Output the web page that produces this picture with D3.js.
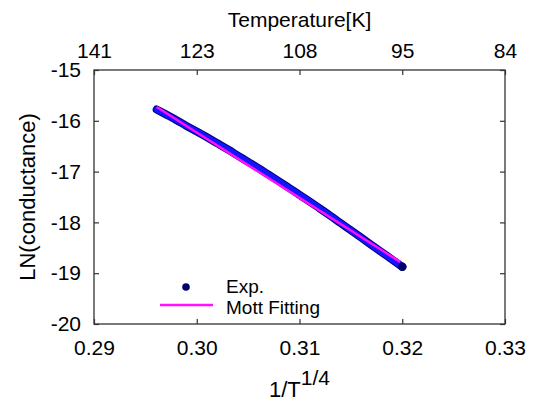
<!DOCTYPE html>
<html>
<head>
<meta charset="utf-8">
<script src="https://cdn.jsdelivr.net/npm/d3@7"></script>
<style>
  body { margin: 0; background: #fff; }
  svg text { font-family: Arial, "Liberation Sans", sans-serif; fill: #000; }
</style>
</head>
<body>
<div id="chart"></div>
<script>
// x = 1/T^(1/4), y = ln(conductance)
const expX = [0.2961, 0.2970, 0.2980, 0.2990, 0.3000, 0.3010, 0.3020, 0.3030, 0.3040,
  0.3050, 0.3060, 0.3070, 0.3080, 0.3090, 0.3100, 0.3110, 0.3120, 0.3130, 0.3140,
  0.3150, 0.3160, 0.3170, 0.3180, 0.3190, 0.3200];
const expY = [-15.778, -15.874, -15.983, -16.101, -16.210, -16.324, -16.442, -16.561, -16.685,
  -16.808, -16.932, -17.061, -17.190, -17.323, -17.457, -17.591, -17.729, -17.868, -18.012,
  -18.155, -18.299, -18.443, -18.587, -18.730, -18.874];

// Mott fit line
const fitX = [0.2961, 0.3000, 0.3050, 0.3100, 0.3150, 0.3198];
const fitY = [-15.728, -16.230, -16.873, -17.517, -18.160, -18.778];

const xTicks = [0.29, 0.30, 0.31, 0.32, 0.33];
const yTicks = [-15, -16, -17, -18, -19, -20];
const tempLabels = ["141", "123", "108", "95", "84"];

const W = 536, H = 402;
const margin = { left: 94, right: 31, top: 70, bottom: 78 };

const svg = d3.select('#chart').append('svg')
  .attr('width', W)
  .attr('height', H);

const x = d3.scaleLinear().domain([0.29, 0.33]).range([margin.left, W - margin.right]);
const y = d3.scaleLinear().domain([-20, -15]).range([H - margin.bottom, margin.top]);

// bottom axis, ticks pointing inside
svg.append('g')
  .attr('transform', `translate(0,${H - margin.bottom})`)
  .call(d3.axisBottom(x).tickValues(xTicks).tickSize(-5).tickPadding(16).tickFormat(d => d.toFixed(2)))
  .call(g => g.select('.domain').remove());

// top axis with temperature labels
svg.append('g')
  .attr('transform', `translate(0,${margin.top})`)
  .call(d3.axisTop(x).tickValues(xTicks).tickSize(-5).tickPadding(12)
    .tickFormat((d, i) => tempLabels[i]))
  .call(g => g.select('.domain').remove());

// left axis (plain hyphen minus like the original)
svg.append('g')
  .attr('transform', `translate(${margin.left},0)`)
  .call(d3.axisLeft(y).tickValues(yTicks).tickSize(-5).tickPadding(13).tickFormat(d => String(d)))
  .call(g => g.select('.domain').remove());

// right side ticks only
svg.append('g')
  .attr('transform', `translate(${W - margin.right},0)`)
  .call(d3.axisRight(y).tickValues(yTicks).tickSize(-5).tickFormat(''))
  .call(g => g.select('.domain').remove());

svg.selectAll('.tick line').attr('stroke', '#333').attr('stroke-width', 1.2);
svg.selectAll('.tick text').style('font-size', '21px').attr('fill', '#000');

// frame
svg.append('rect')
  .attr('x', margin.left)
  .attr('y', margin.top)
  .attr('width', W - margin.left - margin.right)
  .attr('height', H - margin.top - margin.bottom)
  .attr('fill', 'none')
  .attr('stroke', '#333')
  .attr('stroke-width', 1.3);

// experimental data
const expData = expX.map((v, i) => [v, expY[i]]);
const fitData = fitX.map((v, i) => [v, fitY[i]]);
const line = d3.line().x(d => x(d[0])).y(d => y(d[1])).curve(d3.curveMonotoneX);

svg.append('path')
  .datum(expData)
  .attr('d', line)
  .attr('fill', 'none')
  .attr('stroke', '#00007a')
  .attr('stroke-width', 8)
  .attr('stroke-linecap', 'round');

svg.append('path')
  .datum(expData)
  .attr('d', line)
  .attr('fill', 'none')
  .attr('stroke', '#1414ff')
  .attr('stroke-width', 6)
  .attr('stroke-linecap', 'round');

// last point marker
const last = expData[expData.length - 1];
svg.append('circle')
  .attr('cx', x(last[0]))
  .attr('cy', y(last[1]))
  .attr('r', 4.3)
  .attr('fill', '#00006a');

// Mott fitting line
svg.append('path')
  .datum(fitData)
  .attr('d', d3.line().x(d => x(d[0])).y(d => y(d[1])))
  .attr('fill', 'none')
  .attr('stroke', '#ff10ff')
  .attr('stroke-width', 2.5);

// legend
svg.append('circle').attr('cx', 186).attr('cy', 287).attr('r', 3.8).attr('fill', '#00006a');
svg.append('text').attr('x', 226).attr('y', 293).text('Exp.').style('font-size', '19px');
svg.append('line')
  .attr('x1', 160).attr('x2', 213).attr('y1', 305).attr('y2', 305)
  .attr('stroke', '#ff10ff').attr('stroke-width', 2.5);
svg.append('text').attr('x', 226).attr('y', 314).text('Mott Fitting').style('font-size', '19px');

// axis titles
svg.append('text')
  .attr('x', (margin.left + W - margin.right) / 2)
  .attr('y', 27)
  .attr('text-anchor', 'middle')
  .style('font-size', '21px')
  .text('Temperature[K]');

const xl = svg.append('text')
  .attr('x', (margin.left + W - margin.right) / 2)
  .attr('y', 397)
  .attr('text-anchor', 'middle')
  .style('font-size', '22px');
xl.append('tspan').text('1/T');
xl.append('tspan').attr('dy', -12).style('font-size', '21px').text('1/4');

svg.append('text')
  .attr('transform', `translate(35,${(margin.top + H - margin.bottom) / 2}) rotate(-90)`)
  .attr('text-anchor', 'middle')
  .style('font-size', '22px')
  .text('LN(conductance)');
</script>
</body>
</html>
